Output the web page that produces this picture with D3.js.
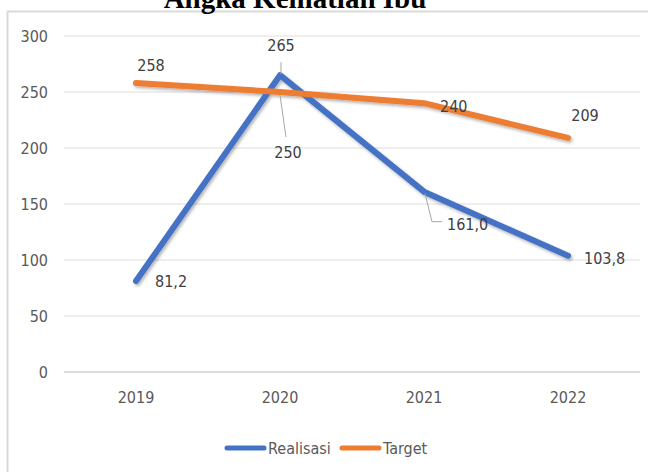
<!DOCTYPE html>
<html>
<head>
<meta charset="utf-8">
<script src="https://cdn.jsdelivr.net/npm/d3@7"></script>
<style>
	html, body { margin:0; padding:0; background:#ffffff; }
	svg { display:block; }
	.lbl { font-family:"DejaVu Sans Condensed","DejaVu Sans",sans-serif; font-stretch:condensed; }
</style>
</head>
<body>
<div id="chart"></div>
<script>
	// Data
	var years = ['2019','2020','2021','2022'];
	var realisasi = [81.2, 265, 161.0, 103.8];
	var target = [258, 250, 240, 209];
	var realisasiLabels = ['81,2','265','161,0','103,8'];
	var targetLabels = ['258','250','240','209'];
	var yTicks = [0,50,100,150,200,250,300];
	var seriesNames = ['Realisasi','Target'];

	var W = 648, H = 472;
	var blue = '#4472c4', orange = '#ed7d31';

	var svg = d3.select('#chart')
		.append('svg')
		.attr('width',W)
		.attr('height',H);

	var defs = svg.append('defs');
	var f = defs.append('filter')
		.attr('id','shadow')
		.attr('x','-10%').attr('y','-10%')
		.attr('width','130%').attr('height','130%');
	f.append('feDropShadow')
		.attr('dx',1.5).attr('dy',2)
		.attr('stdDeviation',1.5)
		.attr('flood-color','#000000')
		.attr('flood-opacity',0.3);

	// chart frame
	svg.append('rect')
		.attr('x',7.5)
		.attr('y',11.5)
		.attr('width',W+20)
		.attr('height',H+20)
		.attr('fill','#ffffff')
		.attr('stroke','#d9d9d9')
		.attr('stroke-width',2);

	// title, clipped by the top of the picture like in the source
	svg.append('text')
		.attr('x',295)
		.attr('y',8)
		.attr('text-anchor','middle')
		.attr('font-family','"Liberation Serif","Times New Roman",serif')
		.attr('font-weight','bold')
		.attr('font-size',29)
		.attr('fill','#000000')
		.text('Angka Kematian Ibu');

	// -----------------------------------------------------------------
	var x = d3.scaleBand()
		.domain(years)
		.range([64,640]);

	var y = d3.scaleLinear()
		.domain([0,300])
		.range([372,36]);

	var cx = function(i){ return x(years[i]) + x.bandwidth()/2; };

	// grid
	svg.append('g')
		.attr('class','grid')
		.selectAll('line')
		.data(yTicks)
		.enter()
		.append('line')
		.attr('x1',64)
		.attr('x2',640)
		.attr('y1',function(d){ return y(d); })
		.attr('y2',function(d){ return y(d); })
		.attr('stroke',function(d){ return d===0 ? '#d0d0d0' : '#dedede'; })
		.attr('stroke-width',function(d){ return d===0 ? 1.5 : 1; });

	// y axis
	var yAxis = svg.append('g')
		.attr('transform','translate(48,0)')
		.call(d3.axisLeft(y).tickValues(yTicks).tickSize(0).tickPadding(0));
	yAxis.select('.domain').remove();
	yAxis.selectAll('text')
		.attr('class','lbl')
		.attr('font-family',null)
		.attr('font-size',16)
		.attr('fill','#595959');

	// x axis
	var xAxis = svg.append('g')
		.attr('transform','translate(0,392)')
		.call(d3.axisBottom(x).tickSize(0).tickPadding(0));
	xAxis.select('.domain').remove();
	xAxis.selectAll('text')
		.attr('class','lbl')
		.attr('font-size',16)
		.attr('fill','#595959');
	svg.selectAll('g').attr('font-family',null);

	// -----------------------------------------------------------------
	var line = d3.line()
		.x(function(d,i){ return cx(i); })
		.y(function(d){ return y(d); });

	var series = [
		{ name: seriesNames[0], values: realisasi, color: blue }
		,{ name: seriesNames[1], values: target, color: orange }
	];

	svg.append('g')
		.attr('class','lines')
		.attr('filter','url(#shadow)')
		.selectAll('path')
		.data(series)
		.enter()
		.append('path')
		.attr('d',function(d){ return line(d.values); })
		.attr('fill','none')
		.attr('stroke',function(d){ return d.color; })
		.attr('stroke-width',6)
		.attr('stroke-linecap','round')
		.attr('stroke-linejoin','round');

	// -----------------------------------------------------------------
	// data labels: offsets relative to the point, leader lines where excel drew them
	var labelPos = {
		Realisasi: [
			{ dx: 19, dy: 6, anchor: 'start' }
			,{ dx: 1, dy: -24, anchor: 'middle', leader: [[1,-13],[1,-1]] }
			,{ dx: 23, dy: 38, anchor: 'start', leader: [[1,2],[8,30],[18,30]] }
			,{ dx: 16, dy: 8, anchor: 'start' }
		]
		,Target: [
			{ dx: 15, dy: -12, anchor: 'middle' }
			,{ dx: 8, dy: 66, anchor: 'middle', leader: [[0,3],[6,45]] }
			,{ dx: 16, dy: 9, anchor: 'start' }
			,{ dx: 17, dy: -17, anchor: 'middle' }
		]
	};
	var labelText = { Realisasi: realisasiLabels, Target: targetLabels };

	var labelG = svg.append('g').attr('class','labels');
	series.forEach(function(s){
		s.values.forEach(function(v,i){
			var p = labelPos[s.name][i];
			var px = cx(i), py = y(v);
			if( p.leader ){
				labelG.append('polyline')
					.attr('points',p.leader.map(function(q){
						return (px+q[0])+','+(py+q[1]);
					}).join(' '))
					.attr('fill','none')
					.attr('stroke','#a6a6a6')
					.attr('stroke-width',1);
			};
			labelG.append('text')
				.attr('class','lbl')
				.attr('x',px+p.dx)
				.attr('y',py+p.dy)
				.attr('text-anchor',p.anchor)
				.attr('font-size',16)
				.attr('fill','#404040')
				.text(labelText[s.name][i]);
		});
	});

	// -----------------------------------------------------------------
	// legend
	var legend = svg.append('g')
		.attr('class','legend')
		.attr('transform','translate(0,448)');
	var legX = [227, 342];
	series.forEach(function(s,i){
		legend.append('line')
			.attr('x1',legX[i])
			.attr('x2',legX[i]+37)
			.attr('y1',0)
			.attr('y2',0)
			.attr('stroke',s.color)
			.attr('stroke-width',5)
			.attr('stroke-linecap','round');
		legend.append('text')
			.attr('class','lbl')
			.attr('x',legX[i]+41)
			.attr('y',5.5)
			.attr('font-size',16)
			.attr('fill','#595959')
			.text(s.name);
	});
</script>
</body>
</html>
